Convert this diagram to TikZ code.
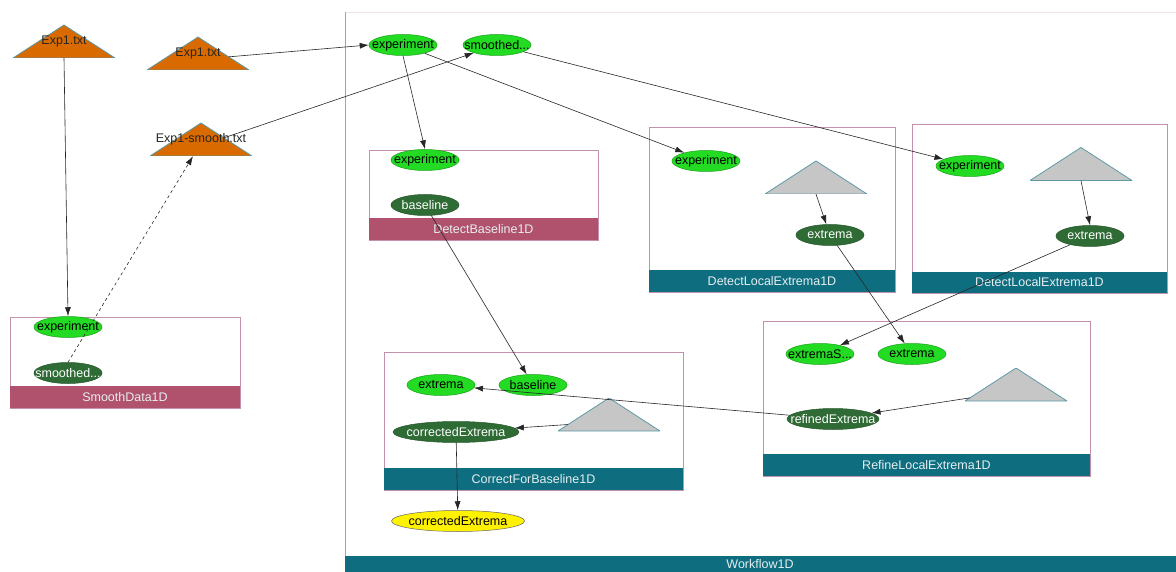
\documentclass[tikz,border=0pt]{standalone}
\usepackage{fontspec}
\setmainfont{Liberation Sans}
\usetikzlibrary{shapes.geometric,arrows.meta,calc}

\definecolor{inport}{HTML}{22DB22}
\definecolor{inportline}{HTML}{1AA01A}
\definecolor{outport}{HTML}{2F6B35}
\definecolor{filetri}{HTML}{D96A00}
\definecolor{paramtri}{HTML}{C6C6C6}
\definecolor{triline}{HTML}{5E9AA6}
\definecolor{modline}{HTML}{C490AC}
\definecolor{mauveband}{HTML}{B0526E}
\definecolor{tealband}{HTML}{0E6E80}
\definecolor{banktext}{HTML}{E6EEF0}

\begin{document}
\begin{tikzpicture}[x=1pt,y=-1pt,font=\fontsize{12.5}{14}\selectfont,
  fixtext/.style={execute at begin node={\setbox0=\hbox\bgroup},
    execute at end node={\egroup\hbox to 0pt{\hss\box0\hss}}},
  inp/.style={ellipse, fixtext, fill=inport, draw=inportline, line width=0.5pt, inner sep=0pt, minimum width=68pt, minimum height=21pt},
  outp/.style={ellipse, fixtext, fill=outport, draw=outport!80!black, line width=0.5pt, text=white, inner sep=0pt, minimum width=68pt, minimum height=21pt},
  result/.style={ellipse, fixtext, fill=yellow, draw=black!60, line width=0.5pt, inner sep=0pt, minimum width=133pt, minimum height=21pt},
  tri/.style={minimum width=102pt, minimum height=33pt, inner sep=0pt, text=black!85,
    path picture={\filldraw[fill=#1, draw=triline, line width=0.8pt]
      (path picture bounding box.south west) -- (path picture bounding box.north)
      -- (path picture bounding box.south east) -- cycle;}},
  modbox/.style={draw=modline, line width=0.6pt},
  bandtext/.style={text=banktext},
  conn/.style={draw=black!85, line width=0.6pt, -{Latex[length=9pt,width=6pt]}}]

\useasboundingbox (0,0) rectangle (1176,572);

% workflow frame
\draw[draw=modline!25, line width=0.6pt] (1176,12) -- (345,12);
\draw[modbox] (345,12) -- (345,572);
\fill[tealband] (345,556) rectangle (1176,572);
\node[bandtext] (wfLabel) at (760,564) {Workflow1D};

% input files
\node[tri=filetri] (fileA) at (64,41.5) {Exp1.txt};
\node[tri=filetri] (fileB) at (198,53.5) {Exp1.txt};
\node[tri=filetri] (fileS) at (201,139.5) {Exp1-smooth.txt};

% workflow ports
\node[inp] (wfExp) at (403,45) {experiment};
\node[inp] (wfSm) at (497,45) {smoothed...};

% SmoothData1D
\draw[modbox] (10,317) rectangle (240,408);
\fill[mauveband] (10,386) rectangle (240,408);
\node[bandtext] (sdLabel) at (125,397) {SmoothData1D};
\node[inp] (sdExp) at (68,327) {experiment};
\node[outp] (sdSm) at (68,373) {smoothed...};

% DetectBaseline1D
\draw[modbox] (369,150) rectangle (598,240);
\fill[mauveband] (369,218) rectangle (598,240);
\node[bandtext] (dbLabel) at (483.5,229) {DetectBaseline1D};
\node[inp] (dbExp) at (425,160) {experiment};
\node[outp] (dbBase) at (425,205) {baseline};

% DetectLocalExtrema1D (first)
\draw[modbox] (649,127) rectangle (895,292);
\fill[tealband] (649,270) rectangle (895,292);
\node[bandtext] (dlaLabel) at (772,281) {DetectLocalExtrema1D};
\node[inp] (dlaExp) at (706,161) {experiment};
\node[tri=paramtri] (dlaTri) at (816,177.5) {};
\node[outp] (dlaExt) at (830,235) {extrema};

% DetectLocalExtrema1D (second)
\draw[modbox] (912,124) rectangle (1167,293);
\fill[tealband] (912,272) rectangle (1167,293);
\node[bandtext] (dlbLabel) at (1039.5,282.5) {DetectLocalExtrema1D};
\node[inp] (dlbExp) at (970,166) {experiment};
\node[tri=paramtri] (dlbTri) at (1081,164) {};
\node[outp] (dlbExt) at (1090,236) {extrema};

% RefineLocalExtrema1D
\draw[modbox] (763,321) rectangle (1090,476);
\fill[tealband] (763,454) rectangle (1090,476);
\node[bandtext] (rlLabel) at (926.5,465) {RefineLocalExtrema1D};
\node[inp] (rlExtS) at (820,354) {extremaS...};
\node[inp] (rlExt) at (912,354) {extrema};
\node[tri=paramtri] (rlTri) at (1016,384.5) {};
\node[outp, minimum width=92pt] (rlRef) at (833,419) {refinedExtrema};

% CorrectForBaseline1D
\draw[modbox] (384,352) rectangle (683,490);
\fill[tealband] (384,468) rectangle (683,490);
\node[bandtext] (cbLabel) at (533.5,479) {CorrectForBaseline1D};
\node[inp] (cbExt) at (441,385) {extrema};
\node[inp] (cbBase) at (533,385) {baseline};
\node[tri=paramtri] (cbTri) at (609,414.5) {};
\node[outp, minimum width=126pt] (cbCorr) at (456,432) {correctedExtrema};

% workflow result
\node[result] (wfCorr) at (458,521) {correctedExtrema};

% connections
\draw[conn] (fileA.south) -- (sdExp.north);
\draw[conn, dashed] (sdSm.north) -- ($(fileS.south)+(-8,0)$);
\draw[conn] ($(fileB.south east)!0.4!(fileB.north)$) -- (wfExp.west);
\draw[conn] ($(fileS.south east)!0.55!(fileS.north)$) -- (wfSm);
\draw[conn] (wfExp.south) -- (dbExp.north);
\draw[conn] (wfExp) -- (dlaExp);
\draw[conn] (wfSm) -- (dlbExp);
\draw[conn] (dlaTri.south) -- (dlaExt);
\draw[conn] (dlbTri.south) -- (dlbExt.north);
\draw[conn] (dbBase) -- (cbBase);
\draw[conn] (dlaExt) -- (rlExt);
\draw[conn] (dlbExt) -- (rlExtS);
\draw[conn] (rlRef) -- (cbExt);
\draw[conn] ($(rlTri.south west)!0.1!(rlTri.north)$) -- (rlRef);
\draw[conn] ($(cbTri.south west)!0.2!(cbTri.north)$) -- (cbCorr);
\draw[conn] (cbCorr) -- (wfCorr);
\end{tikzpicture}
\end{document}
